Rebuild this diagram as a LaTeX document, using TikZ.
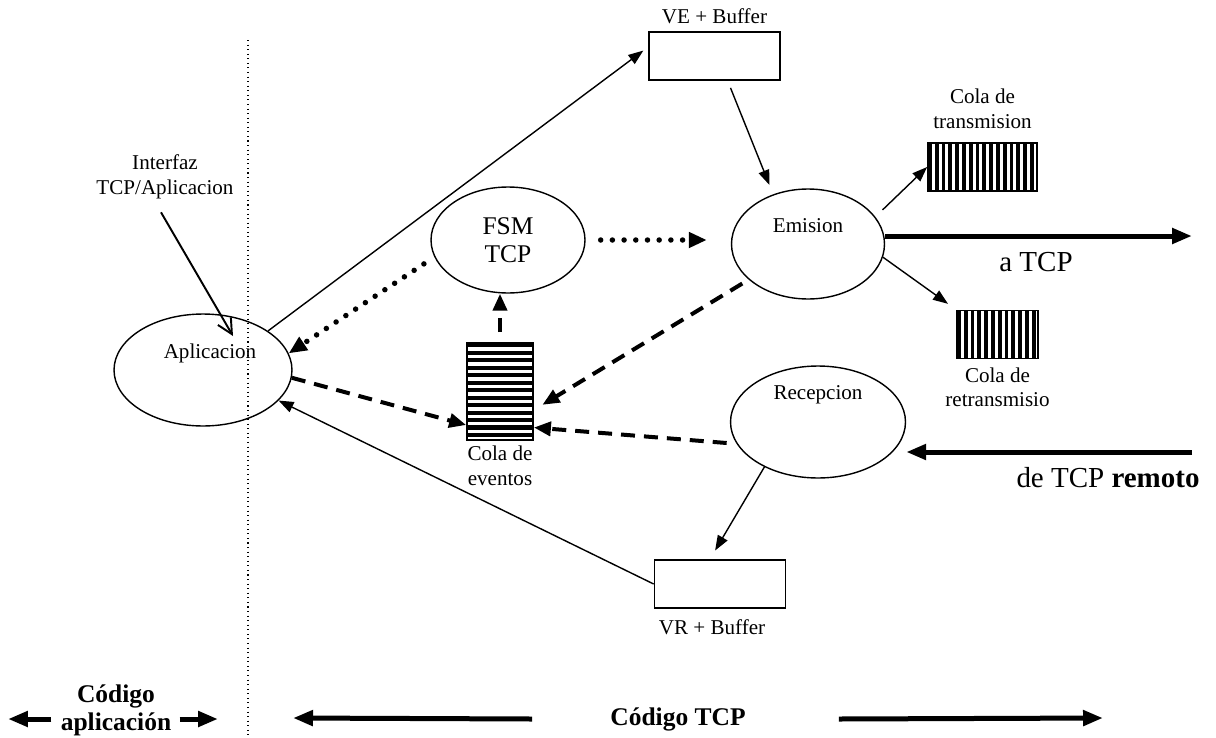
\documentclass[tikz,border=0pt]{standalone}
\usepackage{fontspec}
\setmainfont{Liberation Serif}
\usetikzlibrary{arrows.meta,positioning,shapes.geometric}

\begin{document}
\begin{tikzpicture}[
    x=0.02cm, y=-0.02cm,
    lbl/.style={font=\fontsize{12}{14}\selectfont, align=center, inner sep=0pt},
    big/.style={font=\fontsize{16.5}{18}\selectfont, inner sep=0pt},
    foot/.style={font=\fontsize{14.5}{16}\selectfont\bfseries, align=center, inner sep=0pt},
    proc/.style={ellipse, draw, line width=0.8pt, inner sep=0pt},
    buf/.style={rectangle, draw, line width=1pt, minimum width=2.62cm, minimum height=0.96cm},
    hqueue/.style={rectangle, draw, line width=1pt, minimum width=1.32cm, minimum height=1.94cm,
        path picture={\foreach \k in {0,...,13}
            {\fill ([yshift=-\k*0.15cm]path picture bounding box.north west) rectangle +(80,4.4);}}},
    vqueue/.style={rectangle, draw, line width=1pt, minimum height=0.96cm,
        path picture={\foreach \k in {0,...,17}
            {\fill ([xshift=\k*0.136cm]path picture bounding box.north west) rectangle +(3.8,60);}}},
    arr/.style={-{Triangle[length=0.3cm, width=0.22cm]}, line width=0.8pt},
    barb/.style={-{Straight Barb[length=0.3cm, width=0.3cm]}, line width=1.1pt},
    dotarr/.style={-{Triangle[length=0.36cm, width=0.3cm]}, line width=0.11cm, line cap=round, dash pattern=on 0pt off 0.234cm},
    dasharr/.style={-{Triangle[length=0.34cm, width=0.28cm]}, line width=0.08cm, dash pattern=on 0.28cm off 0.18cm},
    fatarr/.style={-{Triangle[length=0.4cm, width=0.3cm]}, line width=0.1cm}
]
\useasboundingbox (0,0) rectangle (1216,737);

\node[proc, minimum width=3.56cm, minimum height=2.24cm, label={[lbl, xshift=0.14cm, yshift=0.34cm]center:Aplicacion}] (app) at (203,370) {};
\node[proc, minimum width=3.08cm, minimum height=2.12cm, font=\fontsize{14.5}{16}\selectfont, align=center] (fsm) at (508,240) {FSM\\TCP};
\node[proc, minimum width=3.06cm, minimum height=2.2cm, label={[lbl, yshift=0.36cm]center:Emision}] (emi) at (808,244) {};
\node[proc, minimum width=3.5cm, minimum height=2.24cm, label={[lbl, yshift=0.54cm]center:Recepcion}] (rec) at (818,422) {};

\node[buf] (ve) at (714.5,56) {};
\node[lbl, above=0.14cm of ve] (velbl) {VE + Buffer};
\node[buf] (vr) at (720,584) {};
\node[lbl, below=0.2cm of vr, xshift=-0.16cm] (vrlbl) {VR + Buffer};

\node[hqueue] (evq) at (500,391.5) {};
\node[lbl, below=0.1cm of evq] (evqlbl) {Cola de\\eventos};
\node[vqueue, minimum width=2.18cm] (txq) at (982.5,167) {};
\node[lbl, above=0.26cm of txq] (txqlbl) {Cola de\\transmision};
\node[vqueue, minimum width=1.62cm] (rtq) at (997.5,334.5) {};
\node[lbl, below=0.16cm of rtq] (rtqlbl) {Cola de\\retransmisio};

\node[lbl] (iface) at (165,177) {Interfaz\\TCP/Aplicacion};
\node[big] (atcp) at (1036,262) {a TCP};
\node[big] (detcp) at (1108,478) {de TCP \textbf{remoto}};
\node[foot] (capp) at (116,710) {Código\\aplicación};
\node[foot] (ctcp) at (678,719) {Código TCP};

\coordinate (ifaceend) at (233,336);
\coordinate (aout) at (1192,236);
\coordinate (rin) at (1192,452);
\coordinate (divtop) at (248,40);
\coordinate (divbot) at (248,737);
\coordinate (appl) at (8,719);
\coordinate (appr) at (218,719);
\coordinate (tcpl) at (293,718);
\coordinate (tcpr) at (1103,718);

\draw[line width=0.6pt, dotted] (divtop) -- (divbot);

\draw[barb] ([xshift=-0.08cm, yshift=-0.26cm]iface.south) -- (ifaceend);
\draw[arr, shorten >=0.12cm] (app.31) -- ([yshift=0.18cm]ve.west);
\draw[arr, shorten >=0.2cm] ([xshift=0.32cm, yshift=-0.14cm]ve.south) -- (emi.125);
\draw[arr, shorten <=0.2cm] (emi.22) -- (txq.west);
\draw[arr, shorten >=0.2cm] (emi.-10) -- (rtq.north west);
\draw[fatarr] (emi.east |- aout) -- (aout);
\draw[fatarr] (rin) -- (rin -| rec.east);
\draw[arr, shorten >=0.2cm] (rec.220) -- ([xshift=-0.2cm]vr.north);
\draw[arr] (vr.west) -- (app.-22);

\draw[dotarr, shorten <=0.3cm, shorten >=0.48cm] (fsm.east) -- (fsm.east -| emi.west);
\draw[dotarr, shorten <=0.25cm] (fsm.193) -- (app.11);

\draw[dasharr, shorten <=0.2cm] (evq.north) -- (evq.north |- fsm.south);
\draw[dasharr, shorten <=0.15cm, shorten >=0.2cm] (emi.211) -- ([yshift=-0.37cm]evq.east);
\draw[dasharr, shorten <=0.2cm] (rec.195) -- ([yshift=-0.72cm]evq.east);
\draw[dasharr] (app.-5) -- ([yshift=-0.67cm]evq.west);

\draw[fatarr] ([xshift=-0.18cm]capp.west |- appl) -- (appl);
\draw[fatarr] ([xshift=0.16cm]capp.east |- appr) -- (appr);
\draw[fatarr] ([xshift=-1.56cm]ctcp.west) -- (tcpl);
\draw[fatarr] ([xshift=1.86cm]ctcp.east) -- (tcpr);

\end{tikzpicture}
\end{document}
